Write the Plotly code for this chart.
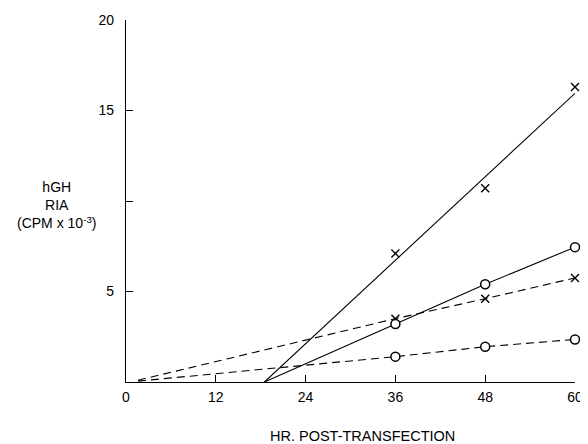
import plotly.graph_objects as go

# Time points (hr post-transfection)
hours = [36, 48, 60]

# Solid series (X markers): measured points and fitted line
solid_x_vals = [7.1, 10.7, 16.3]
solid_x_line_hours = [18.5, 60]
solid_x_line_vals = [0.0, 15.95]

# Solid series (O markers)
solid_o_vals = [3.2, 5.4, 7.45]
solid_o_line_hours = [18.5, 36, 48, 60]
solid_o_line_vals = [0.0, 3.2, 5.4, 7.45]

# Dashed series (X markers)
dashed_x_vals = [3.5, 4.6, 5.75]
dashed_x_line_hours = [1.6, 36, 48, 60]
dashed_x_line_vals = [0.1, 3.5, 4.6, 5.75]

# Dashed series (O markers)
dashed_o_vals = [1.4, 1.95, 2.35]
dashed_o_line_hours = [1.6, 36, 48, 60]
dashed_o_line_vals = [0.05, 1.4, 1.95, 2.35]

x_ticks = [0, 12, 24, 36, 48, 60]
y_ticks = [5, 15, 20]
y_minor_ticks = [10]

FONT = "Liberation Sans, Arial, sans-serif"
OFF = 8  # page body margin offset

fig = go.Figure()

def line(xs, ys, dash):
    fig.add_trace(go.Scatter(x=xs, y=ys, mode="lines",
                             line=dict(color="black", width=1.1, dash=dash),
                             cliponaxis=False, showlegend=False, hoverinfo="skip"))

def markers(xs, ys, symbol, size, width, fill):
    fig.add_trace(go.Scatter(x=xs, y=ys, mode="markers",
                             marker=dict(symbol=symbol, size=size, color=fill,
                                         line=dict(color="black", width=width)),
                             cliponaxis=False, showlegend=False))

line(solid_x_line_hours, solid_x_line_vals, "solid")
line(solid_o_line_hours, solid_o_line_vals, "solid")
line(dashed_x_line_hours, dashed_x_line_vals, "8px,5px")
line(dashed_o_line_hours, dashed_o_line_vals, "8px,5px")

markers(hours, solid_x_vals, "x-thin", 8, 1.4, "black")
markers(hours, dashed_x_vals, "x-thin", 8, 1.4, "black")
markers(hours, solid_o_vals, "circle", 9, 1.5, "white")
markers(hours, dashed_o_vals, "circle", 9, 1.5, "white")

L, T, R, B = 126 - OFF, 19.5 - OFF, 588 - (575 - OFF), 444 - (382.5 - OFF)
plot_w = 588 - L - R
plot_h = 444 - T - B

def px_to_paper(px, py):
    return ((px - OFF) - L) / plot_w, (444 - B - (py - OFF)) / plot_h

ax1, ay1 = px_to_paper(57, 205)
ax2, ay2 = px_to_paper(362, 437)

fig.update_layout(
    width=588, height=444,
    margin=dict(l=L, r=R, t=T, b=B, autoexpand=False),
    paper_bgcolor="white", plot_bgcolor="white",
    font=dict(family=FONT, size=14, color="black"),
    xaxis=dict(range=[0, 60], tickvals=x_ticks, ticks="inside", ticklen=7,
               tickcolor="black", showgrid=False, zeroline=False,
               showline=True, linecolor="black", linewidth=1.2,
               ticklabelstandoff=2),
    yaxis=dict(range=[0, 20], tickvals=y_ticks,
               ticks="inside", ticklen=7, tickcolor="black", showgrid=False,
               zeroline=False, showline=True, linecolor="black", linewidth=1.2,
               ticklabelstandoff=8,
               minor=dict(tickvals=y_minor_ticks, ticks="inside", ticklen=7,
                          tickcolor="black")),
    annotations=[
        dict(text="hGH<br>RIA<br>(CPM x 10<sup>-3</sup>)", x=ax1, y=ay1,
             xref="paper", yref="paper", showarrow=False,
             font=dict(size=14), xanchor="center", yanchor="middle"),
        dict(text="HR. POST-TRANSFECTION", x=ax2, y=ay2,
             xref="paper", yref="paper", showarrow=False,
             font=dict(size=14.5), xanchor="center", yanchor="middle"),
    ],
)

fig.write_html("out.html")
